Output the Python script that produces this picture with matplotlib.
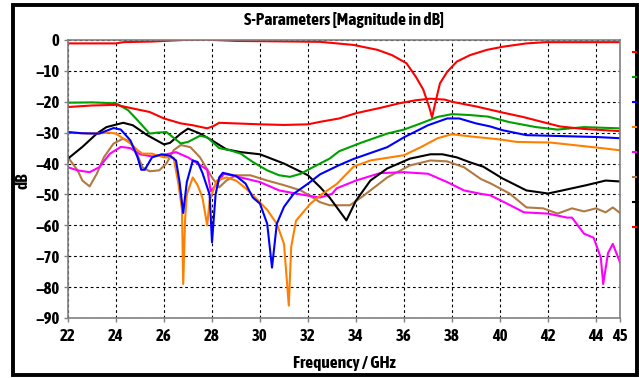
import matplotlib.pyplot as plt
from matplotlib.lines import Line2D
from matplotlib.patches import Rectangle

plt.rcParams['font.family'] = ['Asap Condensed', 'DejaVu Sans']
plt.rcParams['font.weight'] = 'bold'

# --- curves (GHz, dB) ---
red_top_f = [22, 24, 24.3, 25.5, 26.8, 27.8, 28.1, 29, 31.5, 32.5, 33.9, 34.9, 35.5, 36.1, 36.5,
             36.8, 37.05, 37.17, 37.3, 37.5, 37.8, 38.2, 38.75, 39.45, 40.1, 41.1, 41.9, 45]
red_top_db = [-1.1, -1.1, -0.7, -0.5, 0.0, 0.2, 0.0, -0.3, -0.5, -0.6, -1.6, -3.2, -4.9, -7.5, -12,
              -16, -21.7, -25, -20.5, -14, -10.3, -7, -4.9, -3.2, -2.2, -1.1, -0.7, -0.7]

red_low_f = [22, 23, 24, 24.6, 25.4, 26, 26.7, 27.2, 27.8, 28.05, 28.3, 30, 31, 32, 32.5, 33.3, 34,
             35, 35.8, 36.5, 37.1, 37.7, 38, 39, 40, 41, 41.7, 42.5, 43.5, 45]
red_low_db = [-21.7, -21.2, -21, -22, -23.3, -25.4, -27, -27.6, -28.6, -27.9, -26.8, -27.3, -27.5,
              -27.3, -26.5, -25.4, -23.7, -22, -20.5, -19.5, -19, -19.3, -20, -21.5, -23.3, -25,
              -26.4, -28, -28.8, -29.5]

green_f = [22, 23, 24, 24.5, 24.9, 25.4, 25.7, 26.1, 26.7, 27, 27.5, 27.8, 28.3, 28.75, 29.2, 29.7,
           30.3, 30.8, 31.25, 31.7, 32.2, 32.9, 33.3, 34.2, 35.3, 36, 36.7, 37.4, 38, 38.75, 39.5,
           40.4, 41.5, 42.4, 43.5, 45]
green_db = [-20.3, -20.2, -20.5, -22.7, -26, -30.3, -30, -29.8, -33.5, -33, -31, -31.5, -35, -35.7,
            -36.8, -39.5, -42.2, -43.8, -44.3, -43.3, -41.2, -38.4, -36, -33.3, -30.3, -29, -27,
            -24.9, -24, -24.3, -24.8, -26.6, -28.2, -29, -28.2, -28.6]

blue_f = [22, 22.6, 23.3, 23.9, 24.2, 24.6, 24.9, 25.05, 25.2, 25.5, 25.9, 26.25, 26.5, 26.65, 26.8,
          26.95, 27.2, 27.4, 27.6, 27.9, 28.0, 28.15, 28.3, 28.45, 29.0, 29.4, 29.7, 30.0, 30.3,
          30.5, 30.7, 31.0, 31.4, 32.0, 32.5, 33.3, 33.9, 35.3, 36.0, 37.0, 37.8, 38.3, 39.0, 39.6,
          40.1, 41.1, 44.0, 45]
blue_db = [-29.8, -30.2, -30.3, -28.5, -29, -32.5, -38, -42, -42, -38, -37, -37.5, -39, -46, -56,
           -46, -39, -39.5, -43, -50, -65.5, -50, -44.5, -43, -44, -46.5, -51, -53, -59.5, -73.7,
           -59.5, -54, -49.8, -46.5, -43.5, -40.5, -38.5, -34.7, -31.5, -27.6, -25.4, -25.4, -27,
           -28, -29.2, -30.8, -31.4, -31.8]

orange_f = [22, 23, 23.75, 24, 24.6, 24.9, 25.1, 25.5, 26, 26.4, 26.6, 26.75, 26.8, 26.88, 26.95,
            27.2, 27.4, 27.6, 27.8, 27.9, 28.2, 28.6, 29, 29.4, 29.8, 30.3, 30.7, 31.0, 31.2, 31.3,
            31.5, 32.1, 32.6, 33.2, 33.9, 34.6, 36, 36.7, 37.4, 38, 38.75, 40, 40.7, 42.1, 44, 45]
orange_db = [-30, -30.3, -30, -30.3, -33.5, -35.7, -36.8, -36.8, -38, -38, -46.6, -55, -79, -58,
             -50, -44.5, -47, -51, -60, -52, -45.5, -44.5, -45.5, -48, -51, -55, -59.5, -66, -86,
             -67, -58.5, -53, -49.8, -46.6, -41, -39, -37.3, -34.7, -31.8, -30.5, -31.2, -32.2, -33,
             -33.2, -34.8, -35.7]

magenta_f = [22, 22.4, 22.9, 23.3, 23.75, 24.2, 24.6, 25, 25.5, 26.1, 26.5, 27, 27.4, 27.8, 27.95,
             28.2, 28.5, 29.2, 30, 30.8, 31.7, 32.5, 33, 33.2, 34, 35, 36, 37, 37.8, 38.5, 39.2,
             39.6, 40.3, 41, 42, 42.8, 43, 43.5, 43.9, 44.2, 44.3, 44.5, 44.7, 45]
magenta_db = [-41.2, -42.2, -42.8, -41.2, -36.8, -34.6, -35, -37, -37.7, -37, -36.3, -38, -40, -42,
              -49, -46.6, -43.3, -44.5, -46, -48.7, -50, -51, -49.8, -48, -45.5, -43.1, -42.8,
              -43.3, -46, -48.7, -49.8, -50.3, -53, -55.8, -56.2, -57.5, -57.5, -62.7, -64, -70.5,
              -79, -69, -66, -72]

brown_f = [22, 22.4, 22.6, 22.9, 23.2, 23.5, 23.9, 24.3, 24.6, 24.9, 25.1, 25.4, 25.8, 26.1, 26.4,
           26.7, 27.1, 27.5, 28, 28.3, 28.6, 29, 29.6, 30.3, 31, 31.7, 32.2, 32.5, 32.9, 33.75,
           34.3, 35.3, 36.25, 37.1, 37.8, 38.5, 39.2, 39.6, 40.4, 41.1, 41.8, 42.4, 43, 43.5, 44,
           44.4, 44.7, 45]
brown_db = [-38, -42.2, -45.5, -47.4, -43.3, -37.9, -33.5, -31.9, -33, -37.3, -41.2, -42.5, -42.2,
            -40, -35.7, -34, -34.7, -38, -44.5, -47.7, -45.5, -43.8, -43.8, -45.5, -47, -48.7,
            -51, -52.5, -53.5, -53.5, -50.5, -44.5, -40.6, -39, -39.3, -41.2, -45, -46.4, -49.7,
            -54.2, -54.5, -56.2, -54.5, -55.5, -54.5, -55.8, -54.2, -56]

black_f = [22, 22.6, 23.2, 23.6, 24.3, 24.7, 25.3, 26, 26.25, 26.7, 27, 27.5, 28, 28.6, 29.2, 30,
           31, 32, 32.5, 32.9, 33.6, 34, 34.6, 35.3, 36.25, 37.1, 37.6, 38.2, 38.75, 39.3, 40.1,
           41.1, 42, 42.6, 43.6, 44.4, 45]
black_db = [-38.4, -34.6, -30.3, -28.2, -26.8, -27.6, -30.8, -33.8, -33.3, -30.3, -28.7, -30.3,
            -32.5, -35.4, -36.3, -37, -40, -43.8, -47.6, -51, -58.4, -52, -45.5, -41.6, -38.4, -37,
            -37, -38, -39.6, -41, -44.8, -48.7, -49.7, -48.7, -47, -45.5, -45.8]

x_ticks = [22, 24, 26, 28, 30, 32, 34, 36, 38, 40, 42, 44, 45]
y_ticks = [0, -10, -20, -30, -40, -50, -60, -70, -80, -90]

# colours of the (clipped) legend entries at the right edge, top to bottom
legend_colors = ['#ff0000', '#00a000', '#0000ff', '#ff8000', '#ff00ff', '#b07a42', '#000000', '#ff0000']

fig = plt.figure(figsize=(6.39, 3.78), dpi=100)
ax = fig.add_axes([68 / 639, 1 - 318 / 378, 552 / 639, 278 / 378])

lw = 1.5
ax.plot(brown_f, brown_db, color='#b07a42', lw=lw)
ax.plot(magenta_f, magenta_db, color='#ff00ff', lw=lw)
ax.plot(black_f, black_db, color='#000000', lw=lw)
ax.plot(orange_f, orange_db, color='#ff8000', lw=lw)
ax.plot(blue_f, blue_db, color='#0000ff', lw=lw)
ax.plot(green_f, green_db, color='#00a000', lw=lw)
ax.plot(red_low_f, red_low_db, color='#ff0000', lw=lw)
ax.plot(red_top_f, red_top_db, color='#ff0000', lw=lw)

ax.set_xlim(22, 45)
ax.set_ylim(-90, 0)
ax.set_xticks(x_ticks)
ax.set_yticks(y_ticks)
ax.grid(True, color='black', linestyle=(0, (2.5, 2.5)), lw=0.8)
for s in ax.spines.values():
    s.set_color('#808080')
    s.set_linewidth(1.2)
ax.tick_params(direction='out', length=3, width=1, color='#808080', labelsize=12)
ax.tick_params(axis='x', pad=4)
ax.tick_params(axis='y', pad=3)

fig.text(344 / 639, 1 - 20 / 378, 'S-Parameters [Magnitude in dB]', ha='center', va='center',
         fontsize=12.5, fontweight='bold')
fig.text(344 / 639, 1 - 363 / 378, 'Frequency / GHz', ha='center', va='center',
         fontsize=12.5, fontweight='bold')
fig.text(23 / 639, 1 - 181 / 378, 'dB', ha='center', va='center', rotation=90,
         fontsize=12.5, fontweight='bold')

# clipped legend stubs
for i, c in enumerate(legend_colors):
    y = 1 - (52 + 25 * i) / 378
    fig.add_artist(Line2D([633 / 639, 636 / 639], [y, y], color=c, lw=1.5,
                          transform=fig.transFigure))

# outer frame
fig.add_artist(Rectangle((12.5 / 639, 3 / 378), 624.5 / 639, 370 / 378, fill=False,
                         ec='black', lw=2.8, transform=fig.transFigure))

fig.savefig('out.png', dpi=100)
